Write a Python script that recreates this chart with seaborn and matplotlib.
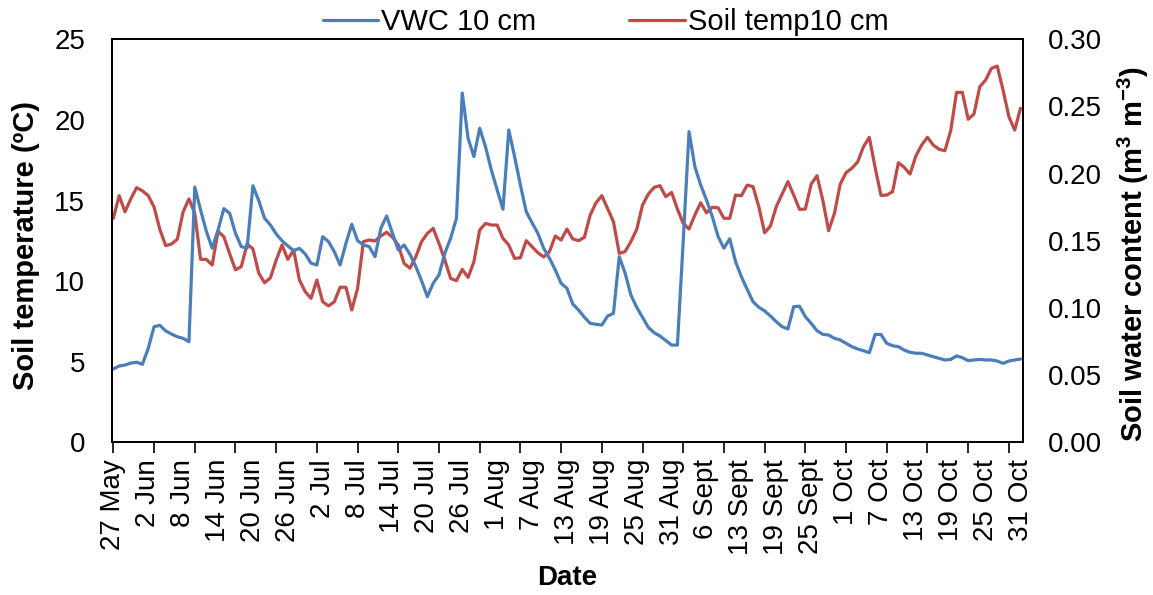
import numpy as np
import pandas as pd
import matplotlib
matplotlib.use('Agg')
import matplotlib.pyplot as plt
import seaborn as sns

# daily readings at 10 cm depth, 27 May to 31 Oct (157 logged days)
soil_temp_10cm = [
    13.9, 15.3, 14.3, 15.1, 15.8, 15.6, 15.3, 14.6, 13.2, 12.2,
    12.3, 12.6, 14.3, 15.1, 14.2, 11.35, 11.35, 11.0, 13.1, 12.75,
    11.7, 10.7, 10.9, 12.3, 12.0, 10.5, 9.9, 10.2, 11.3, 12.24,
    11.35, 11.93, 10.07, 9.34, 8.93, 10.07, 8.72, 8.46, 8.72, 9.62,
    9.62, 8.21, 9.55, 12.45, 12.55, 12.49, 12.8, 13.03, 12.72, 12.24,
    11.1, 10.8, 11.5, 12.45, 12.96, 13.27, 12.34, 11.31, 10.17, 10.03,
    10.73, 10.23, 11.2, 13.17, 13.58, 13.48, 13.48, 12.65, 12.24, 11.41,
    11.45, 12.51, 12.13, 11.76, 11.5, 11.83, 12.8, 12.55, 13.23, 12.62,
    12.51, 12.72, 14.1, 14.86, 15.3, 14.5, 13.69, 11.72, 11.83, 12.45,
    13.21, 14.72, 15.4, 15.82, 15.92, 15.24, 15.5, 14.47, 13.58, 13.23,
    14.1, 14.86, 14.24, 14.58, 14.55, 13.9, 13.9, 15.34, 15.3, 15.96,
    15.86, 14.62, 13.0, 13.42, 14.62, 15.4, 16.17, 15.34, 14.45, 14.47,
    16.02, 16.54, 15.03, 13.13, 14.2, 16.02, 16.73, 17.0, 17.4, 18.34,
    18.92, 17.05, 15.32, 15.34, 15.55, 17.35, 17.06, 16.64, 17.76, 18.44,
    18.92, 18.44, 18.18, 18.09, 19.33, 21.71, 21.71, 20.04, 20.37, 22.06,
    22.47, 23.2, 23.34, 21.85, 20.2, 19.37, 20.72,
]

vwc_10cm = [
    0.0546, 0.0568, 0.0575, 0.059, 0.0596, 0.0581, 0.070, 0.0861, 0.0871, 0.0829,
    0.0806, 0.0786, 0.0774, 0.0749, 0.190, 0.173, 0.157, 0.1445, 0.158, 0.174,
    0.1705, 0.1556, 0.1457, 0.1445, 0.191, 0.180, 0.1668, 0.1618, 0.1551, 0.1501,
    0.1462, 0.1427, 0.1444, 0.1402, 0.1333, 0.132, 0.1531, 0.1494, 0.1419, 0.132,
    0.1482, 0.1623, 0.1501, 0.1469, 0.1457, 0.1382, 0.1593, 0.1685, 0.1556, 0.1432,
    0.1469, 0.140, 0.131, 0.1203, 0.1084, 0.1184, 0.1246, 0.1407, 0.1519, 0.1668,
    0.260, 0.2264, 0.2127, 0.2338, 0.220, 0.2028, 0.1879, 0.1735, 0.2325, 0.2127,
    0.1916, 0.1717, 0.1635, 0.1556, 0.1445, 0.137, 0.1283, 0.1184, 0.1147, 0.103,
    0.0985, 0.0931, 0.0886, 0.0879, 0.0873, 0.094, 0.096, 0.1382, 0.126, 0.1097,
    0.1005, 0.0931, 0.0856, 0.0816, 0.0791, 0.0757, 0.0724, 0.0724, 0.150, 0.2313,
    0.2052, 0.1916, 0.1804, 0.168, 0.1531, 0.1445, 0.1515, 0.1345, 0.1233, 0.1139,
    0.1047, 0.1005, 0.0978, 0.094, 0.0898, 0.0861, 0.0844, 0.101, 0.1013, 0.0935,
    0.0886, 0.0831, 0.0804, 0.0799, 0.0774, 0.0762, 0.0737, 0.0712, 0.0695, 0.0682,
    0.0667, 0.0803, 0.0803, 0.0737, 0.0719, 0.0712, 0.0687, 0.067, 0.0663, 0.0663,
    0.065, 0.0637, 0.0625, 0.0613, 0.0617, 0.0643, 0.063, 0.0608, 0.0613, 0.0617,
    0.0613, 0.0613, 0.0605, 0.0588, 0.0605, 0.0613, 0.062,
]

# one label every 6th logged day
date_labels = [
    '27 May', '2 Jun', '8 Jun', '14 Jun', '20 Jun', '26 Jun', '2 Jul', '8 Jul',
    '14 Jul', '20 Jul', '26 Jul', '1 Aug', '7 Aug', '13 Aug', '19 Aug', '25 Aug',
    '31 Aug', '6 Sept', '13 Sept', '19 Sept', '25 Sept', '1 Oct', '7 Oct',
    '13 Oct', '19 Oct', '25 Oct', '31 Oct',
]

df = pd.DataFrame({
    'Day': np.arange(len(soil_temp_10cm)),
    'Soil_temp': soil_temp_10cm,
    'VWC': vwc_10cm,
})

sns.set_theme(style='white')
plt.rcParams['font.family'] = ['Liberation Sans', 'DejaVu Sans']
plt.rcParams['text.color'] = 'black'
plt.rcParams['mathtext.fontset'] = 'custom'
plt.rcParams['mathtext.rm'] = 'Liberation Sans'
plt.rcParams['mathtext.bf'] = 'Liberation Sans:bold'

BLUE = '#4A7EBB'
RED = '#BE4B48'
FS = 20

fig = plt.figure(figsize=(11.53, 5.95), dpi=100)
ax = fig.add_axes([0.0969, 0.2566, 0.7901, 0.6773])
ax2 = ax.twinx()

sns.lineplot(data=df, x='Day', y='Soil_temp', ax=ax, color=RED, linewidth=2.3, legend=False)
sns.lineplot(data=df, x='Day', y='VWC', ax=ax2, color=BLUE, linewidth=2.3, legend=False)

ax.set_xlim(-0.28, 156.38)
ax.set_ylim(0, 25)
ax2.set_ylim(0, 0.30)
ax.set_yticks(range(0, 26, 5))
ax2.set_yticks(np.arange(0, 0.301, 0.05))
ax2.set_yticklabels([f'{v:.2f}' for v in np.arange(0, 0.301, 0.05)])

# labels every 6 days, tick marks every 7 days (as in the original)
ax.xaxis.remove_overlapping_locs = False
ax.set_xticks(range(0, len(soil_temp_10cm), 6))
ax.set_xticklabels(date_labels, rotation=90)
ax.set_xticks(range(0, len(soil_temp_10cm) - 1, 7), minor=True)
ax.tick_params(axis='x', which='major', length=0, pad=12, labelsize=FS, colors='black')
ax.tick_params(axis='x', which='minor', length=8, width=1.2, direction='out', color='black', bottom=True)
ax.tick_params(axis='y', length=0, pad=19, labelsize=FS, colors='black')
ax2.tick_params(axis='y', length=0, pad=18, labelsize=FS, colors='black')

for a in (ax, ax2):
    for sp in a.spines.values():
        sp.set_color('black')
        sp.set_linewidth(1.3)

ax.set_xlabel('')
ax.set_ylabel('')
ax2.set_ylabel('')
fig.text(567 / 1153, 1 - 578 / 595, 'Date', ha='center', va='center', fontsize=FS,
         fontweight='bold', color='black')
fig.text(26 / 1153, 1 - 246 / 595, 'Soil temperature (ºC)', rotation=90, ha='center', va='center',
         fontsize=21, fontweight='bold', color='black')
fig.text(1133 / 1153, 1 - 254 / 595, r'Soil water content (m$^{\mathbf{3}}$ m$^{\mathbf{-3}}$)',
         rotation=90, ha='center', va='center', fontsize=21, fontweight='bold', color='black')

handles = [ax2.get_lines()[0], ax.get_lines()[0]]
fig.legend(handles, ['VWC 10 cm', 'Soil temp10 cm'], loc='center', bbox_to_anchor=(0.5252, 0.963),
           ncol=2, frameon=False, fontsize=21, handlelength=1.9, handletextpad=0.1,
           columnspacing=3.2, borderaxespad=0, borderpad=0)

fig.savefig('out.png', dpi=100)
